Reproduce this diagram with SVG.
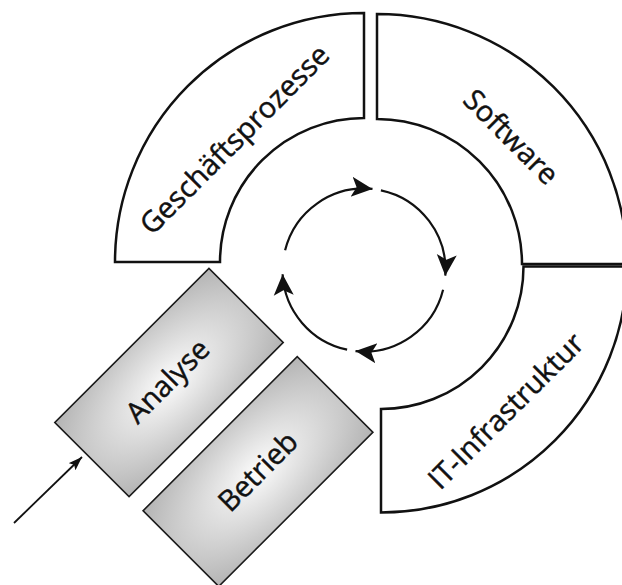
<svg xmlns="http://www.w3.org/2000/svg" width="622" height="585" viewBox="0 0 622 585">
  <style>
    .seg { fill: #ffffff; stroke: #111111; stroke-width: 2.5; stroke-linejoin: miter; }
    .box { fill: url(#boxfill); stroke: #1a1a1a; stroke-width: 1.6; }
    .cyc { fill: none; stroke: #111111; stroke-width: 2.2; }
    .lbl { font-family: "Open Sans", "Noto Sans", "DejaVu Sans", sans-serif; font-size: 29px; fill: #111111; stroke: #111111; stroke-width: 0.45; text-anchor: middle; }
  </style>
  <defs>
    <radialGradient id="boxfill" cx="50%" cy="50%" r="68%">
      <stop offset="0" stop-color="#fdfdfd"/>
      <stop offset="1" stop-color="#b6b6b6"/>
    </radialGradient>
    <marker id="cycHead" viewBox="0 0 22 22" refX="21" refY="11" markerWidth="22" markerHeight="22" markerUnits="userSpaceOnUse" orient="auto">
      <path d="M0,1 L21,11 L0,21 L5,11 Z" fill="#111111"/>
    </marker>
    <marker id="inHead" viewBox="0 0 14 10" refX="14" refY="5" markerWidth="14" markerHeight="10" markerUnits="userSpaceOnUse" orient="auto">
      <path d="M0,0 L14,5 L0,10 L3,5 Z" fill="#111111"/>
    </marker>
  </defs>

  <rect x="0" y="0" width="622" height="585" fill="#ffffff"/>

  <!-- ring segment: business processes (upper left quarter) -->
  <g id="geschaeftsprozesse">
    <path class="seg" d="M115,262 A249,249 0 0 1 364,13 L364,118 A144,144 0 0 0 220,262 Z"/>
    <g transform="translate(236,141) rotate(-45)">
      <text class="lbl" x="0" y="8">Geschäftsprozesse</text>
    </g>
  </g>

  <!-- ring segment: software (upper right quarter) -->
  <g id="software">
    <path class="seg" d="M377,14 A250,250 0 0 1 627,264 L522,264 A145,145 0 0 0 377,119 Z"/>
    <g transform="translate(511,137) rotate(45)">
      <text class="lbl" x="0" y="10">Software</text>
    </g>
  </g>

  <!-- ring segment: IT infrastructure (lower right quarter) -->
  <g id="it-infrastruktur">
    <path class="seg" d="M523.5,266.5 L627,266.5 A246,246 0 0 1 381,512.5 L381,409 A142.5,142.5 0 0 0 523.5,266.5 Z"/>
    <g transform="translate(506,411) rotate(-45)">
      <text class="lbl" x="0" y="10">IT-Infrastruktur</text>
    </g>
  </g>

  <!-- analysis box -->
  <g id="analyse" transform="translate(169,382.5) rotate(-45)">
    <rect class="box" x="-109" y="-52.5" width="218" height="105"/>
    <text class="lbl" x="0" y="8">Analyse</text>
  </g>

  <!-- operations box -->
  <g id="betrieb" transform="translate(258,471.5) rotate(-45)">
    <rect class="box" x="-109" y="-53.5" width="218" height="107"/>
    <text class="lbl" x="0" y="10">Betrieb</text>
  </g>

  <!-- connectors: clockwise cycle in the middle and the entry arrow -->
  <g id="connectors">
    <path class="cyc" marker-end="url(#cycHead)" d="M285.1,250.3 A81.5,81.5 0 0 1 372.5,188.9"/>
    <path class="cyc" marker-end="url(#cycHead)" d="M380.9,190.3 A81.5,81.5 0 0 1 445.3,275.7"/>
    <path class="cyc" marker-end="url(#cycHead)" d="M443.1,289.7 A81.5,81.5 0 0 1 355.5,351.1"/>
    <path class="cyc" marker-end="url(#cycHead)" d="M347.1,349.7 A81.5,81.5 0 0 1 282.6,274.3"/>
    <line x1="14" y1="523" x2="82" y2="457" stroke="#111111" stroke-width="1.8" marker-end="url(#inHead)"/>
  </g>
</svg>
